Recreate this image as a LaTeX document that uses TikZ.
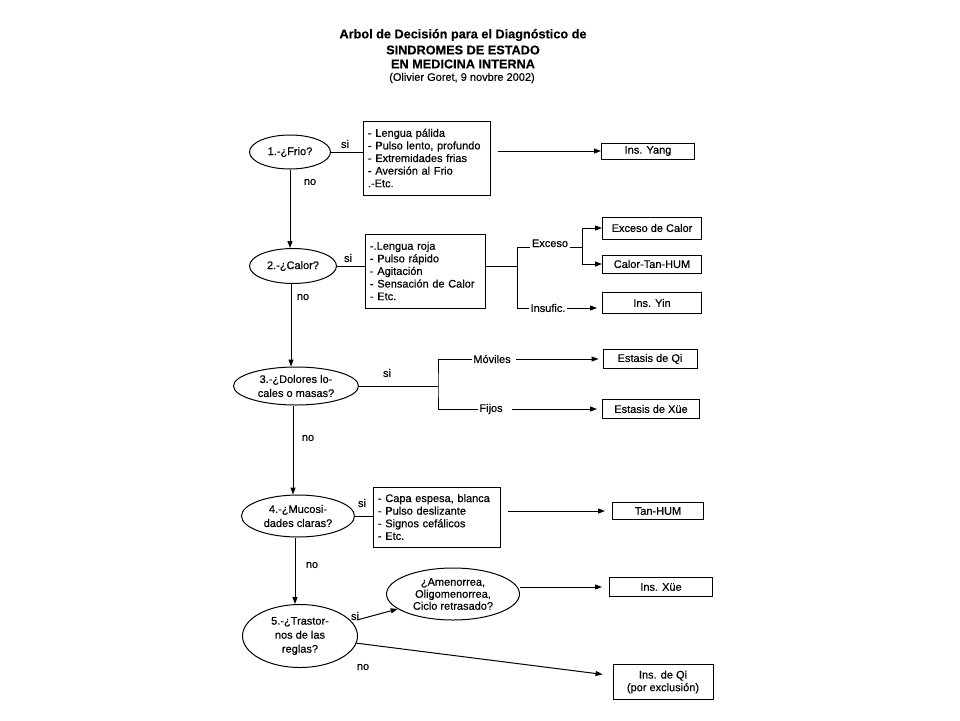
\documentclass[tikz,border=0pt]{standalone}
\usepackage{fontspec}
\setmainfont{Liberation Sans}[UprightFeatures={FakeBold=0.4},BoldFeatures={FakeBold=0.3}]
\usetikzlibrary{arrows.meta,shapes.geometric}
\begin{document}
\begin{tikzpicture}[x=1pt,y=-1pt,
 lw/.style={line width=1pt},
 arr/.style={lw,-{Triangle[length=7pt,width=5pt]}},
 q/.style={ellipse,draw,lw,inner sep=0pt,align=center,font=\fontsize{11}{14}\selectfont},
 sym/.style={rectangle,draw,lw,align=left,inner xsep=5pt,inner ysep=0pt,font=\fontsize{11}{12.6}\selectfont},
 res/.style={rectangle,draw,lw,inner sep=0pt,font=\fontsize{11}{12.6}\selectfont},
 lab/.style={inner sep=1.5pt,font=\fontsize{11}{12}\selectfont},
 ttl/.style={font=\bfseries\fontsize{12.7}{14}\selectfont,inner sep=0pt}
]
\useasboundingbox[fill=white] (0,0) rectangle (960,720);

% title
\node[ttl] (t1) at (463,35) {Arbol de Decisión para el Diagnóstico de};
\node[ttl] (t2) at (463,50) {SINDROMES DE ESTADO};
\node[ttl] (t3) at (463,64) {EN MEDICINA INTERNA};
\node[inner sep=0pt,font=\fontsize{11}{13}\selectfont] (t4) at (462,78) {(Olivier Goret, 9 novbre 2002)};

% section 1
\node[q,minimum width=81pt,minimum height=34pt] (e1) at (290,152) {1.-¿Frio?};
\node[sym,text width=117pt,minimum height=74pt] (b1) at (426.5,158) {- Lengua pálida\\- Pulso lento, profundo\\- Extremidades frias\\- Aversión al Frio\\.-Etc.};
\node[res,minimum width=93pt,minimum height=16pt] (yang) at (648,151) {Ins. Yang};
\node[lab] (si1) at (345,144) {si};
\node[lab] (no1) at (310,182) {no};
\draw[lw] (e1.east) -- (e1.east -| b1.west);
\draw[arr] ([xshift=7pt]b1.east |- yang.west) -- (yang.west);

% section 2
\node[q,minimum width=87pt,minimum height=35pt] (e2) at (293,266) {2.-¿Calor?};
\node[sym,text width=110pt,minimum height=74pt] (b2) at (425,271) {-.Lengua roja\\- Pulso rápido\\- Agitación\\- Sensación de Calor\\- Etc.};
\node[lab] (si2) at (348,258) {si};
\node[lab] (no2) at (303,297) {no};
\node[res,minimum width=99pt,minimum height=22pt] (exc) at (652,228) {Exceso de Calor};
\node[res,minimum width=99pt,minimum height=18pt] (cth) at (652,264) {Calor-Tan-HUM};
\node[res,minimum width=99pt,minimum height=21pt] (yin) at (652,303) {Ins. Yin};
\coordinate (j2) at (517,266);
\coordinate (j2b) at (582,247);
\node[lab,anchor=base] (exl) at (550,247) {Exceso};
\node[lab] (insl) at (548,308) {Insufic.};
\draw[arr] (e1.south) -- (e1.south |- e2.north);
\draw[lw] (e2.east) -- (e2.east -| b2.west);
\draw[lw] (b2.east |- j2) -- (j2);
\draw[lw] (exl.base west) -| (insl.west -| j2) -- (insl.west);
\draw[lw] (exl.base east) -- (j2b);
\draw[arr] (j2b) |- (exc.west);
\draw[arr] (j2b) |- (cth.west);
\draw[arr,shorten >=5pt] (insl.east) -- (insl.east -| yin.west);

% section 3
\node[q,minimum width=125pt,minimum height=38pt] (e3) at (296,386) {3.-¿Dolores lo-\\cales o masas?};
\node[lab] (si3) at (387,373) {si};
\node[lab] (no3) at (308,438) {no};
\node[lab] (mov) at (492,359) {Móviles};
\node[lab] (fij) at (491,409) {Fijos};
\node[res,minimum width=94pt,minimum height=19pt] (eqi) at (650,359) {Estasis de Qi};
\node[res,minimum width=97pt,minimum height=19pt] (exu) at (651,409) {Estasis de Xüe};
\coordinate (j3) at (438,386);
\draw[arr] ([xshift=-2pt]e2.south) -- ([xshift=-2pt]e2.south |- e3.north);
\draw[lw] (e3.east) -- (j3);
\draw[lw] (mov.west) -| (j3) |- (fij.west);
\draw[arr,shorten <=3.5pt,shorten >=4pt] (mov.east) -- (mov.east -| eqi.west);
\draw[arr,shorten <=8pt,shorten >=5pt] (fij.east) -- (fij.east -| exu.west);

% section 4
\node[q,minimum width=113pt,minimum height=42pt] (e4) at (298,516) {4.-¿Mucosi-\\dades claras?};
\node[sym,text width=117pt,minimum height=60pt] (b4) at (436.5,517) {- Capa espesa, blanca\\- Pulso deslizante\\- Signos cefálicos\\- Etc.};
\node[res,minimum width=91pt,minimum height=17pt] (tan) at (658,511) {Tan-HUM};
\node[lab] (si4) at (362,503) {si};
\node[lab] (no4) at (312,565) {no};
\draw[arr] ([xshift=-3pt]e3.south) -- ([xshift=-3pt]e3.south |- e4.north);
\draw[lw] (e4.east) -- (e4.east -| b4.west);
\draw[arr,shorten >=7pt] ([xshift=7pt]b4.east |- tan.west) -- (tan.west);

% section 5
\node[q,minimum width=115pt,minimum height=63pt] (e5) at (300,636) {5.-¿Trastor-\\nos de las\\reglas?};
\node[q,minimum width=133pt,minimum height=52pt,font=\fontsize{11}{12}\selectfont] (amen) at (453,594) {¿Amenorrea,\\Oligomenorrea,\\Ciclo retrasado?};
\node[res,minimum width=103pt,minimum height=19pt] (ixu) at (661,587) {Ins. Xüe};
\node[res,minimum width=100pt,minimum height=35pt,align=center] (iqi) at (663,682) {Ins. de Qi\\(por exclusión)};
\node[lab] (si5) at (355,616) {si};
\node[lab] (no5) at (363,667) {no};
\coordinate (s5) at (357,620);
\draw[arr] ([xshift=-3pt]e4.south) -- ([xshift=-3pt]e4.south |- e5.north);
\draw[arr] (s5) -- (amen);
\draw[arr,shorten >=7pt] (amen.east |- ixu.west) -- (ixu.west);
\draw[arr,shorten >=10pt] (e5) -- (iqi);
\end{tikzpicture}
\end{document}
